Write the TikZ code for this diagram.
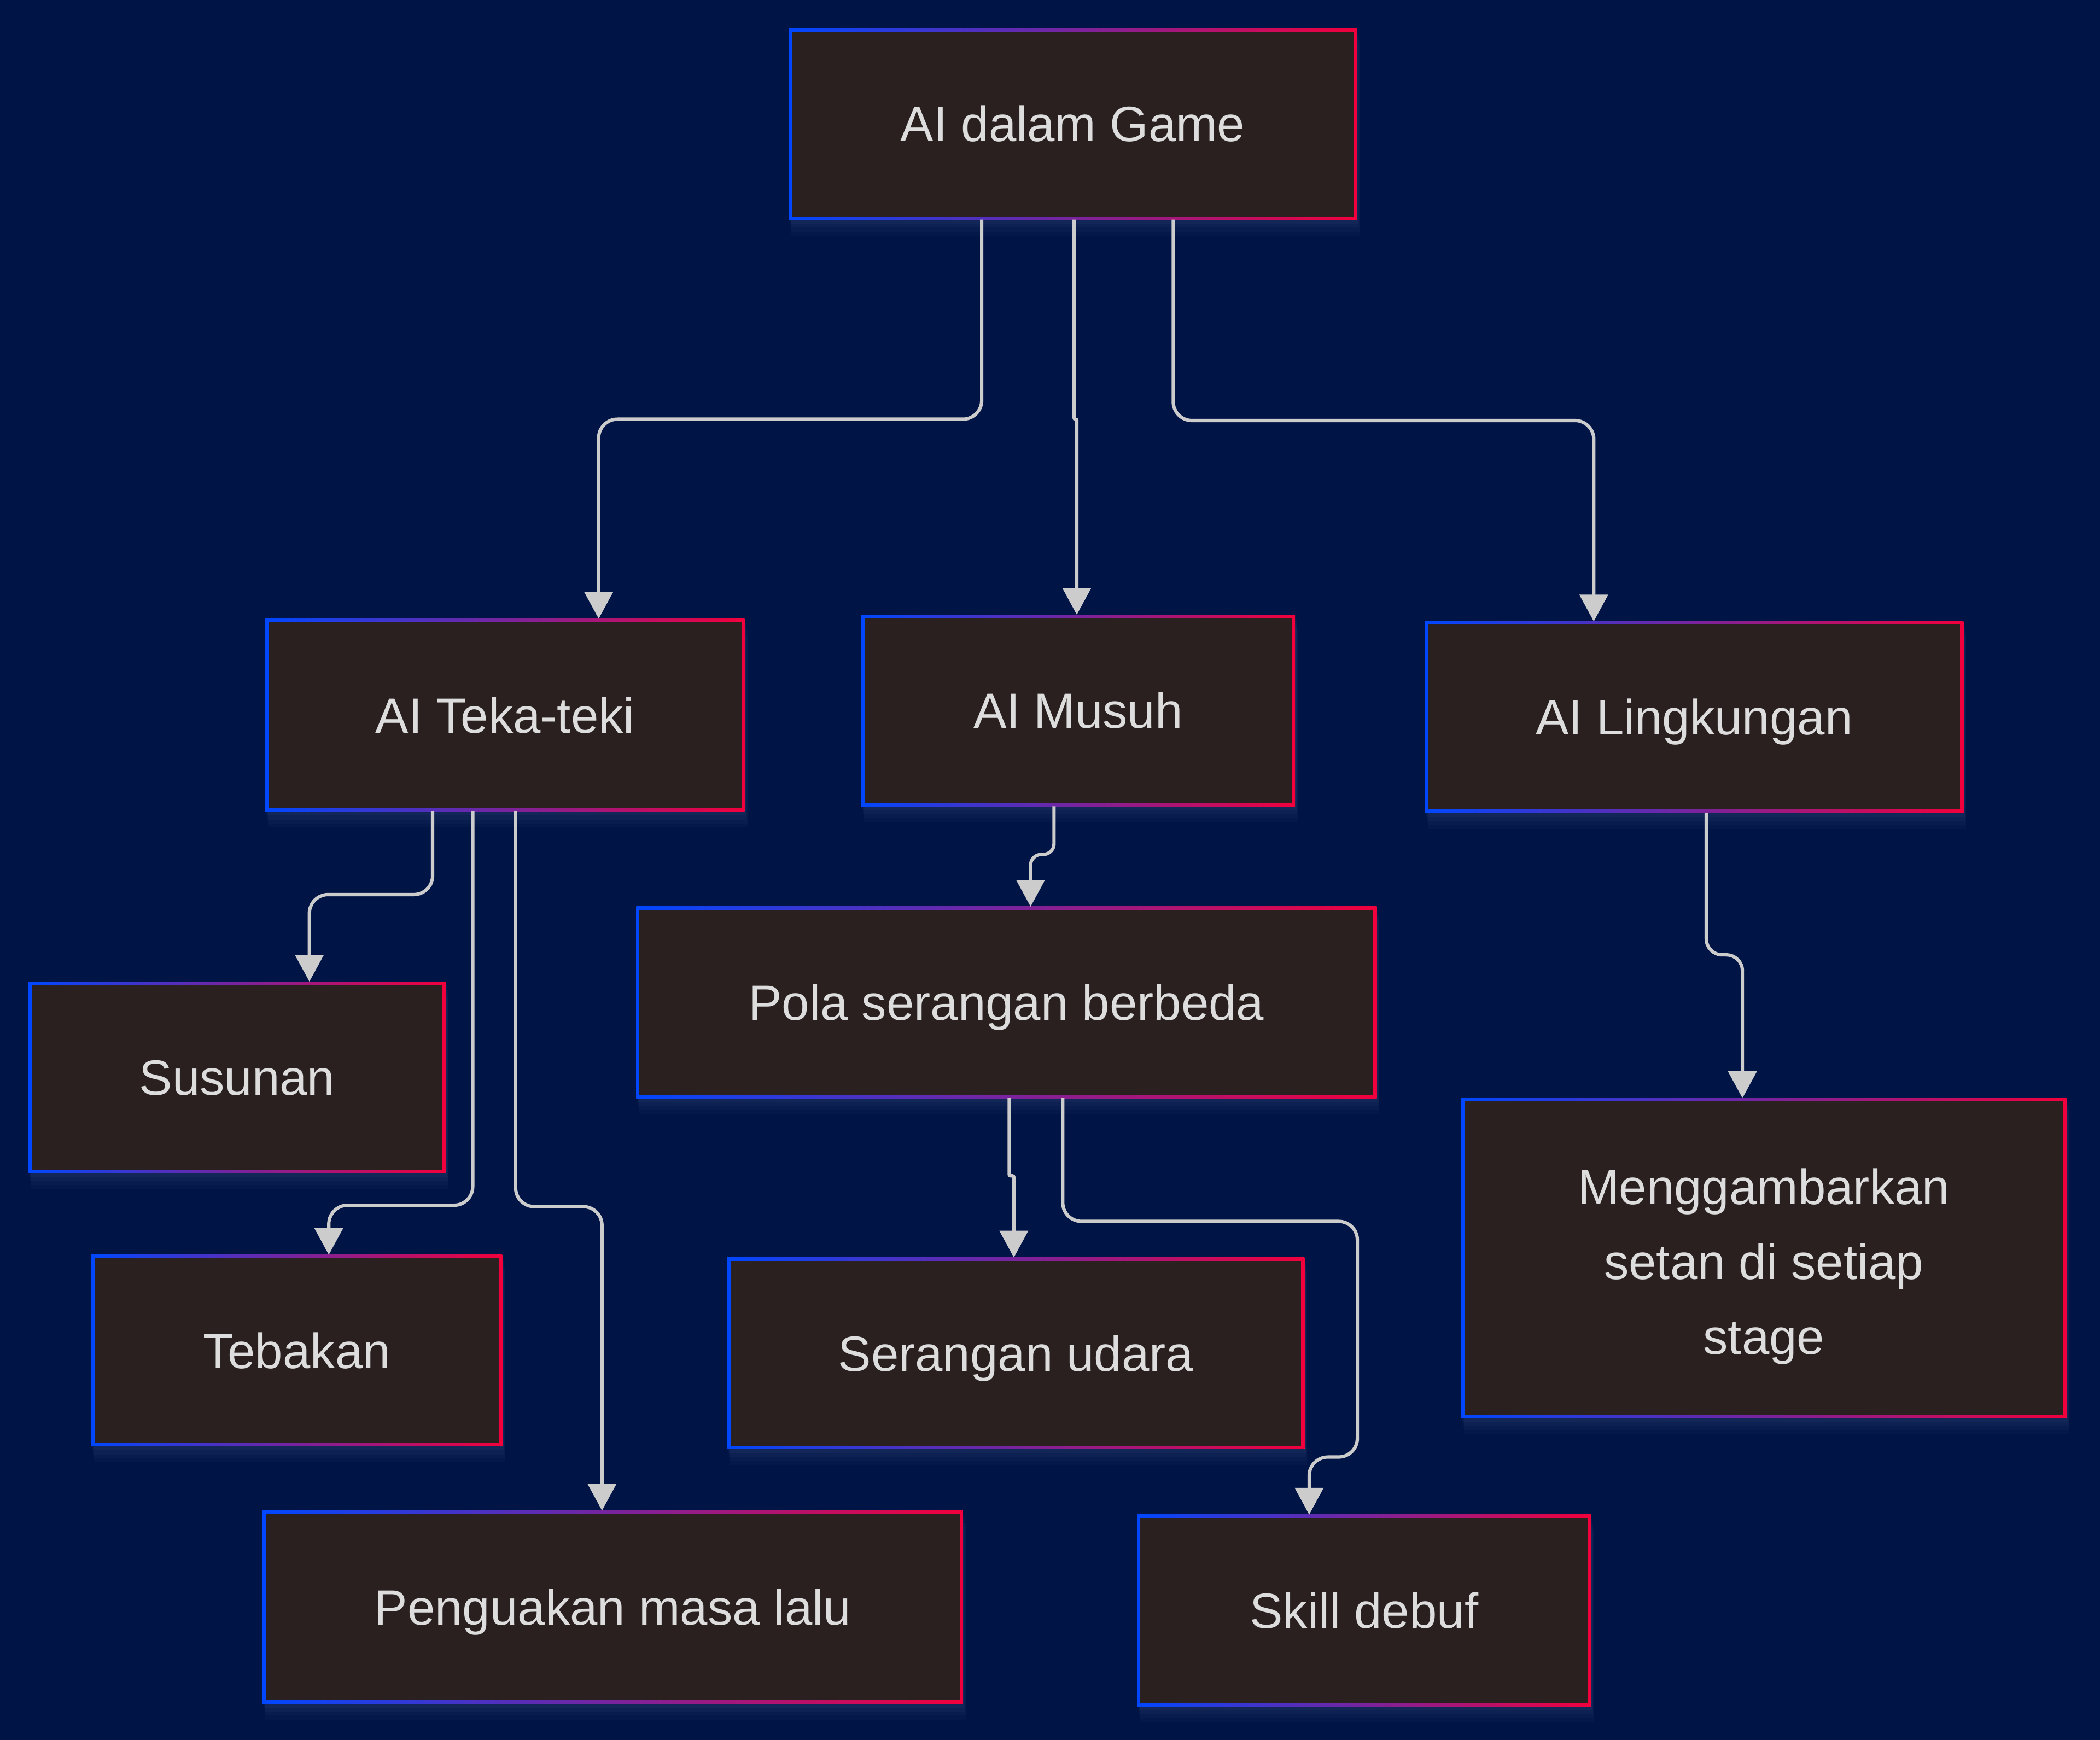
\documentclass[tikz,border=0pt]{standalone}
\usepackage{fontspec}
\setmainfont{Liberation Sans}
\usetikzlibrary{arrows.meta,shadows}
\definecolor{bg}{HTML}{001446}
\definecolor{boxfill}{HTML}{2B2020}
\definecolor{bblue}{HTML}{0047FF}
\definecolor{bred}{HTML}{F2003C}
\definecolor{linec}{HTML}{CCCCCC}
\definecolor{txt}{HTML}{DDDDDD}
\definecolor{glowc}{HTML}{5A6A9A}
\tikzset{
  box/.style 2 args={shape=rectangle, inner sep=0pt, outer sep=0pt,
    minimum width=#1, minimum height=#2,
    left color=bblue, right color=bred,
    text=txt, font=\fontsize{37}{56}\selectfont, align=center,
    general shadow={fill=glowc, opacity=0.05, shadow yshift=-12pt, shadow xshift=2pt},
    general shadow={fill=glowc, opacity=0.06, shadow yshift=-9pt, shadow xshift=2pt},
    general shadow={fill=glowc, opacity=0.07, shadow yshift=-6pt, shadow xshift=1.5pt},
    general shadow={fill=glowc, opacity=0.08, shadow yshift=-3pt, shadow xshift=1pt},
    path picture={\fill[boxfill] ([shift={(2.5pt,2.5pt)}]path picture bounding box.south west) rectangle ([shift={(-2.5pt,-2.5pt)}]path picture bounding box.north east);}},
  oneline/.style={text height=26.5pt, text depth=0pt},
  conn/.style={draw=linec, line width=2.5pt, rounded corners=14pt,
    -{Triangle[width=21pt,length=20pt]}, color=linec}
}
\begin{document}
\begin{tikzpicture}[x=1pt,y=-1pt]
\useasboundingbox (0,0) rectangle (1568,1299);
\fill[bg] (-8,-8) rectangle (1576,1307);

\node[box={424pt}{143pt},oneline] (game) at (801,92.5) {AI dalam Game};
\node[box={358pt}{144pt},oneline] (tt) at (377,534) {AI Teka-teki};
\node[box={324pt}{143pt},oneline] (mu) at (805,530.5) {AI Musuh};
\node[box={402pt}{143pt},oneline] (ling) at (1265,535.5) {AI Lingkungan};
\node[box={312pt}{143pt},oneline] (sus) at (177,804.5) {Susunan};
\node[box={307pt}{143pt},oneline] (teb) at (221.5,1008.5) {Tebakan};
\node[box={523pt}{144pt},oneline] (peng) at (457.5,1200) {Penguakan masa lalu};
\node[box={553pt}{143pt},oneline] (pola) at (751.5,748.5) {Pola serangan berbeda};
\node[box={431pt}{143pt},oneline] (udara) at (758.5,1010.5) {Serangan udara};
\node[box={339pt}{143pt},oneline] (skill) at (1018.5,1202.5) {Skill debuf};
\node[box={452pt}{239pt}] (meng) at (1317,939.5) {\rule{0pt}{39pt}Menggambarkan\\setan di setiap\\stage};

\draw[conn] ([xshift=-68pt]game.south) -- ++(0,149) -| ([xshift=70pt]tt.north);
\draw[conn,rounded corners=1pt] ([xshift=1pt]game.south) -- ++(0,149) -| ([xshift=-1pt]mu.north);
\draw[conn] ([xshift=75pt]game.south) -- ++(0,150) -| ([xshift=-75pt]ling.north);
\draw[conn] ([xshift=-54pt]tt.south) -- ++(0,62) -| ([xshift=54pt]sus.north);
\draw[conn] ([xshift=-24pt]tt.south) -- ++(0,294) -| ([xshift=24pt]teb.north);
\draw[conn] ([xshift=8pt]tt.south) -- ++(0,295) -| ([xshift=-8pt]peng.north);
\draw[conn,rounded corners=8pt] ([xshift=-18pt]mu.south) -- ++(0,36) -| ([xshift=18pt]pola.north);
\draw[conn,rounded corners=1pt] ([xshift=2pt]pola.south) -- ++(0,58) -| ([xshift=-1.5pt]udara.north);
\draw[conn] ([xshift=42pt]pola.south) -- ++(0,92) -| ++(220,176) -| ([xshift=-41pt]skill.north);
\draw[conn,rounded corners=12pt] ([xshift=9pt]ling.south) -- ++(0,106) -| ([xshift=-16pt]meng.north);
\end{tikzpicture}
\end{document}
